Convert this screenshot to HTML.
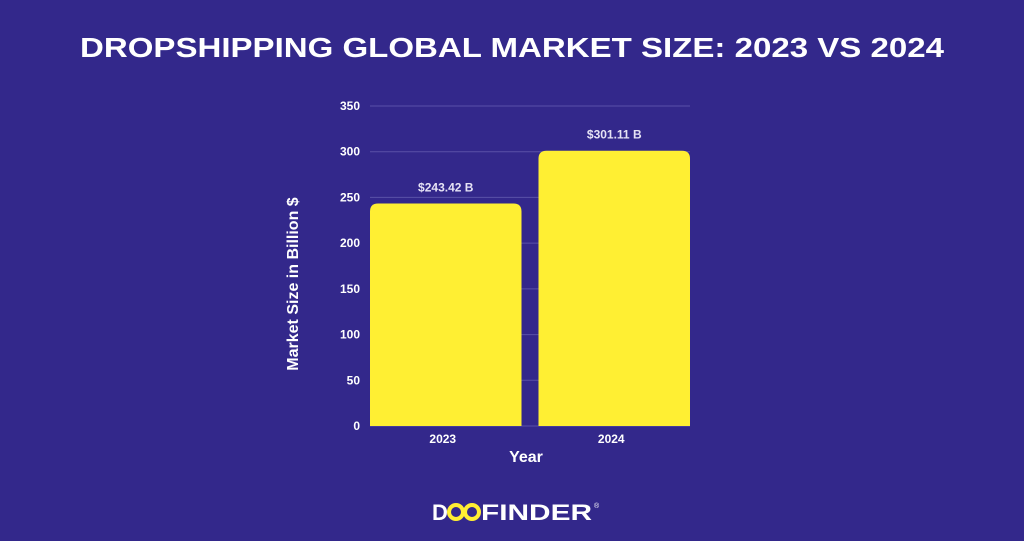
<!DOCTYPE html>
<html><head><meta charset="utf-8"><style>
body{margin:0;width:1024px;height:536px;background:#33288b;overflow:hidden;font-family:"Liberation Sans",sans-serif}
</style></head><body>
<svg width="1024" height="536">
<text x="80" y="57" textLength="864" lengthAdjust="spacingAndGlyphs" fill="#fff" font-size="28" font-weight="900" font-family="Liberation Sans, sans-serif">DROPSHIPPING GLOBAL MARKET SIZE: 2023 VS 2024</text>
<g id="grid"></g><g id="bars"></g>
<text transform="translate(298,284) rotate(-90)" text-anchor="middle" fill="#fff" font-size="16" font-weight="bold">Market Size in Billion $</text>
<text x="526" y="462" text-anchor="middle" fill="#fff" font-size="16" font-weight="bold">Year</text>
<g>
<text x="432" y="520" fill="#fff" font-size="22" font-weight="900">D</text>
<ellipse cx="456" cy="512" rx="7" ry="7" fill="none" stroke="#ffee33" stroke-width="4"/>
<ellipse cx="472" cy="512" rx="7" ry="7" fill="none" stroke="#ffee33" stroke-width="4"/>
<text x="481" y="520" textLength="111" lengthAdjust="spacingAndGlyphs" fill="#fff" font-size="22" font-weight="900">FINDER</text>
<text x="594" y="508" fill="#fff" font-size="7">®</text>
</g>
</svg>
<script>
const categories=["2023","2024"];
const values=[243.42,301.11];
const labels=["$243.42 B","$301.11 B"];
const ticks=[0,50,100,150,200,250,300,350];
const NS="http://www.w3.org/2000/svg";
const x0=370,x1=690,yTop=106,yBot=426,max=350;
const y=v=>yBot-(v/max)*(yBot-yTop);
const bw=(x1-x0)/categories.length;
const g=document.getElementById('grid'),b=document.getElementById('bars');
function mk(t,a,p){const e=document.createElementNS(NS,t);for(const k in a)e.setAttribute(k,a[k]);p.appendChild(e);return e;}
ticks.forEach(t=>{
 const l=mk('line',{x1:x0,x2:x1,y1:y(t),y2:y(t),stroke:'#5a51a8','stroke-width':1},g);
 
 
 const tx=mk('text',{x:360,y:y(t)+4,'text-anchor':'end',fill:'#fff','font-size':12,'font-weight':'900'},g);
 tx.textContent=t;
 
 
});
categories.forEach((c,i)=>{
 const bx=x0+i*bw+(i==0?0:8.5), w=bw-8.5, top=y(values[i]), r=8;
 const p=mk('path',{d:`M${bx},${yBot}V${top+r}Q${bx},${top} ${bx+r},${top}H${bx+w-r}Q${bx+w},${top} ${bx+w},${top+r}V${yBot}Z`,fill:'#ffef33'},b);
 
 
 const v=mk('text',{x:bx+w/2,y:top-12,'text-anchor':'middle',fill:'#e6e3f5','font-size':12,'font-weight':'bold'},b);
 v.textContent=labels[i];
 
 
 const xl=mk('text',{x:bx+w/2-3,y:yBot+17,'text-anchor':'middle',fill:'#fff','font-size':12,'font-weight':'900'},b);
 xl.textContent=c;
 
 
});
</script>
</body></html>
